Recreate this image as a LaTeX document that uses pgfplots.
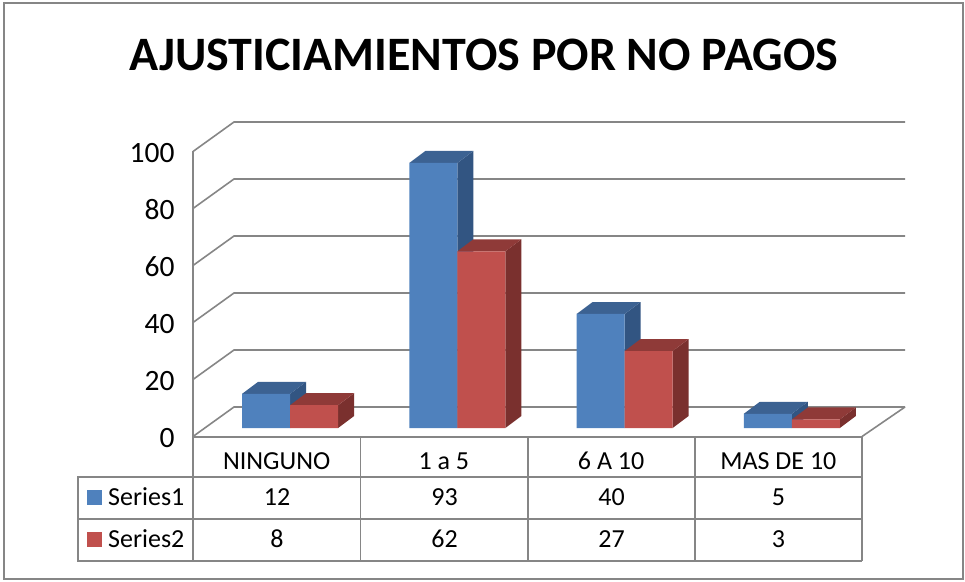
\documentclass[border=0pt]{standalone}
\usepackage{pgfplots}
\pgfplotsset{compat=1.18}
\usepackage{fontspec}
\setmainfont{Carlito}
\definecolor{gridgray}{RGB}{134,134,134}
\definecolor{blueF}{RGB}{79,129,189}
\definecolor{blueS}{RGB}{50,85,130}
\definecolor{blueT}{RGB}{60,98,146}
\definecolor{redF}{RGB}{192,80,77}
\definecolor{redS}{RGB}{122,48,46}
\definecolor{redT}{RGB}{143,58,56}

% bar width 0.287, depth 0.0957 in category units, 4.21 in value units
% #1 left edge, #2 value, #3 side colour, #4 top colour
\newcommand{\barfaces}[4]{%
  \pgfmathsetmacro\xr{#1+0.287}%
  \pgfmathsetmacro\xrb{#1+0.287+0.0957}%
  \pgfmathsetmacro\xlb{#1+0.0957}%
  \pgfmathsetmacro\vb{#2+4.21}%
  \edef\temp{\noexpand\addplot[fill=#3,draw=none] coordinates {(\xr,0)(\xrb,4.21)(\xrb,\vb)(\xr,#2)} -- cycle;
    \noexpand\addplot[fill=#4,draw=none] coordinates {(#1,#2)(\xlb,\vb)(\xrb,\vb)(\xr,#2)} -- cycle;}%
  \temp}

\begin{document}
\begin{tikzpicture}[x=1pt,y=1pt]
\path[use as bounding box] (0,0) rectangle (965,581);
\draw[gridgray,line width=1.8pt] (4,2) rectangle (963,578);

% back wall and side wall lines
\foreach \v in {0,20,40,60,80,100}{
  \pgfmathsetmacro\yf{144.5+2.85*\v}
  \pgfmathsetmacro\yb{174+2.85*\v}
  \draw[gridgray,line width=1.6pt] (193,\yf) -- (234,\yb) -- (905,\yb);
}
\draw[gridgray,line width=1.6pt] (862,144.5) -- (905,174);

\node[font=\fontsize{48}{48}\selectfont\bfseries,anchor=base,inner sep=0pt] at (484,510) {AJUSTICIAMIENTOS POR NO PAGOS};

% front axes, tick labels
\begin{axis}[
  at={(193pt,144.5pt)},anchor=south west,
  scale only axis,width=669pt,height=285pt,
  xmin=-0.5,xmax=3.5,ymin=0,ymax=100,
  axis x line*=bottom,axis y line*=left,
  axis line style={gridgray,line width=2pt,-},
  major tick length=0pt,
  xtick={0,1,2,3},
  xticklabels={NINGUNO,1 a 5,6 A 10,MAS DE 10},
  ytick={0,20,40,60,80,100},
  /pgf/number format/assume math mode=true,
  tick label style={font=\fontsize{26}{26}\selectfont},
  y tick label style={font=\fontsize{29.5}{29.5}\selectfont,anchor=east,xshift=-15pt,yshift=-1.5pt},
  x tick label style={anchor=base,yshift=-32.5pt,inner sep=0pt},
]
\end{axis}

% bars, plane of the bar fronts
\begin{axis}[
  at={(206.5pt,153pt)},anchor=south west,
  scale only axis,width=669pt,height=285pt,
  xmin=-0.5,xmax=3.5,ymin=0,ymax=100,
  hide axis,clip=false,
]
\barfaces{-0.287}{12}{blueS}{blueT}
\barfaces{0.713}{93}{blueS}{blueT}
\barfaces{1.713}{40}{blueS}{blueT}
\barfaces{2.713}{5}{blueS}{blueT}
\addplot[ybar,bar width=48pt,bar shift=-24pt,fill=blueF,draw=none]
  coordinates {(0,12)(1,93)(2,40)(3,5)};
\barfaces{0}{8}{redS}{redT}
\barfaces{1}{62}{redS}{redT}
\barfaces{2}{27}{redS}{redT}
\barfaces{3}{3}{redS}{redT}
\addplot[ybar,bar width=48pt,bar shift=24pt,fill=redF,draw=none]
  coordinates {(0,8)(1,62)(2,27)(3,3)};
\end{axis}

% data table
\begin{scope}[gridgray,line width=1.8pt]
\draw (78,104) rectangle (193,20);
\draw (78,62) -- (862,62);
\draw (193,104) -- (862,104);
\draw (193,20) -- (862,20);
\foreach \x in {193,360.5,528,695,862} \draw (\x,144.5) -- (\x,20);
\end{scope}
\fill[blueF] (87,76) rectangle (102,91);
\fill[redF] (87,34) rectangle (102,49);
\begin{scope}[every node/.style={font=\fontsize{26}{26}\selectfont,anchor=base,inner sep=0pt}]
\node[anchor=base west] at (108,75.5) {Series1};
\node[anchor=base west] at (108,33.5) {Series2};
\node at (277,75.5) {12}; \node at (444.5,75.5) {93}; \node at (611.5,75.5) {40}; \node at (778.5,75.5) {5};
\node at (277,33.5) {8};  \node at (444.5,33.5) {62}; \node at (611.5,33.5) {27}; \node at (778.5,33.5) {3};
\end{scope}
\end{tikzpicture}
\end{document}
